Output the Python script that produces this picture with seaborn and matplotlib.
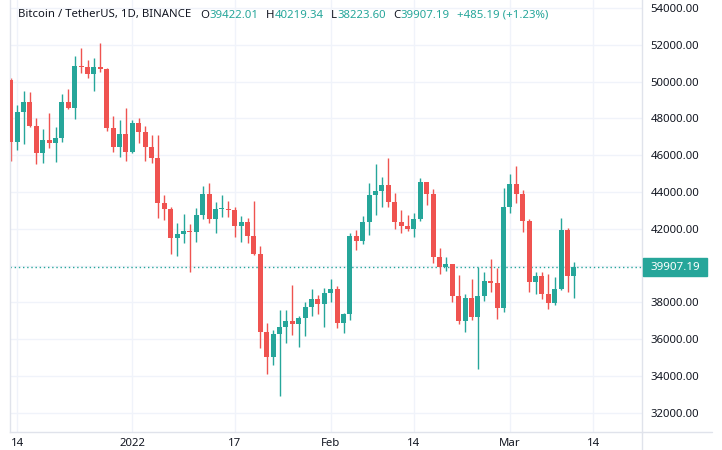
import numpy as np
import pandas as pd
import matplotlib
matplotlib.use("Agg")
import matplotlib.pyplot as plt
import matplotlib.dates as mdates
from matplotlib.patches import Rectangle
from matplotlib.lines import Line2D
import seaborn as sns

# ---- data (BTC/USDT daily) ----
start_date = "2021-12-13"
opens = [50087, 46699, 48330, 48873, 47605, 46101, 46808, 46681, 46917, 48873,
         48584, 50848, 50794, 50395, 50794, 50667, 47496, 46464, 47152, 46192,
         47732, 47278, 46427, 45829, 43420, 43057, 41517, 41698, 41879, 41807,
         42749, 43891, 42550, 43057, 43093, 43039, 42169, 42369, 41626, 40650,
         36409, 35050, 36282, 36644, 36988, 36807, 37133, 37731, 38166, 37894,
         38492, 38728, 36898, 37351, 41608, 41355, 42351, 43837, 44054, 44380,
         43474, 42351, 42170, 41989, 42514, 44525, 43873, 40485, 39942, 40086,
         38365, 36988, 38220, 37224, 38347, 39181, 39072, 37677, 43203, 44434,
         43891, 42441, 39126, 39434, 38437, 37984, 38709, 41934, 39422]
highs = [50200, 48729, 49489, 49417, 48004, 47406, 48276, 47551, 49308, 49598,
         51392, 51808, 51174, 51265, 52080, 50721, 48131, 47913, 48584, 47913,
         48022, 47587, 47098, 47097, 43836, 43166, 42296, 42803, 42260, 43112,
         44325, 44506, 43474, 43836, 43528, 43166, 42695, 42568, 43528, 41065,
         36862, 36499, 37586, 37586, 38945, 37260, 38003, 38710, 38402, 38764,
         39253, 38909, 37405, 41753, 41934, 42695, 44507, 45522, 44797, 45830,
         43927, 43021, 42750, 42840, 44743, 44561, 44145, 40938, 40449, 40100,
         39489, 38456, 39253, 39905, 39670, 40358, 39887, 44199, 44978, 45412,
         44108, 42514, 39633, 39669, 39543, 39361, 42568, 42025, 40219]
lows = [45685, 46283, 46591, 47551, 45504, 45558, 46410, 45612, 46699, 48511,
        47949, 50450, 50178, 49489, 50504, 47333, 46156, 45920, 45703, 46100,
        46680, 45702, 45557, 42568, 42477, 40629, 40539, 41246, 39669, 41300,
        42514, 42333, 41753, 42622, 42622, 41572, 41300, 41209, 40575, 35503,
        34090, 34597, 32912, 35775, 36228, 35557, 36191, 37278, 37369, 36680,
        38039, 36626, 36318, 37043, 40847, 41155, 41663, 42750, 43166, 43203,
        41971, 41753, 41898, 41572, 42424, 43293, 40123, 39525, 39706, 38039,
        36825, 36409, 37043, 34362, 38076, 38583, 37079, 37496, 42840, 43383,
        41843, 38582, 38437, 38166, 37622, 37858, 38673, 38582, 38223]
closes = [46699, 48330, 48873, 47605, 46101, 46808, 46681, 46917, 48873, 48584,
          50848, 50794, 50395, 50794, 50667, 47496, 46464, 47152, 46192, 47732,
          47278, 46427, 45829, 43420, 43057, 41517, 41698, 41879, 41807, 42749,
          43891, 42550, 43057, 43093, 43039, 42169, 42369, 41626, 40650, 36409,
          35050, 36282, 36644, 36988, 36807, 37133, 37731, 38166, 37894, 38492,
          38728, 36898, 37351, 41608, 41355, 42351, 43837, 44054, 44380, 43474,
          42351, 42170, 41989, 42514, 44525, 43873, 40485, 39942, 40086, 38365,
          36988, 38220, 37224, 38347, 39181, 39072, 37677, 43203, 44434, 43891,
          42441, 39126, 39434, 38437, 37984, 38709, 41934, 39422, 39907]
last_price = 39907.19
y_ticks = [32000, 34000, 36000, 38000, 40000, 42000, 44000, 46000, 48000, 50000, 52000, 54000]
x_tick_dates = ["2021-12-14", "2022-01-01", "2022-01-17", "2022-02-01", "2022-02-14", "2022-03-01", "2022-03-14"]
x_tick_labels = ["14", "2022", "17", "Feb", "14", "Mar", "14"]
header_name = "Bitcoin / TetherUS, 1D, BINANCE"
header_vals = [("O", "39422.01"), ("H", "40219.34"), ("L", "38223.60"), ("C", "39907.19")]
header_change = "+485.19 (+1.23%)"

UP = "#26a69a"
DOWN = "#ef5350"
TXT = "#131722"
GRID = "#f0f3fa"
BORDER = "#e0e3eb"

dates = pd.date_range(start_date, periods=len(opens), freq="D")
df = pd.DataFrame({"date": dates, "open": opens, "high": highs, "low": lows, "close": closes})
df["up"] = df["close"] >= df["open"]
df["x"] = mdates.date2num(df["date"])

sns.set_theme(style="white")
plt.rcParams["font.family"] = ["Noto Sans", "DejaVu Sans"]

W, H = 722, 450
fig = plt.figure(figsize=(W / 100, H / 100), dpi=100)
fig.patch.set_facecolor("white")
ax = fig.add_axes([10 / W, (H - 432) / H, 632 / W, 432 / H])

jan1 = mdates.date2num(pd.Timestamp("2022-01-01"))
px_per_day = 6.4
ax.set_xlim(jan1 + (10 - 132.3) / px_per_day, jan1 + (642 - 132.3) / px_per_day)
ax.set_ylim(30956, 54435)

# grid
for yv in y_ticks:
    ax.axhline(yv, color=GRID, lw=1, zorder=0)
for d in x_tick_dates:
    ax.axvline(mdates.date2num(pd.Timestamp(d)), color=GRID, lw=1, zorder=0)

colors = np.where(df["up"], UP, DOWN)
# wicks
ax.vlines(df["x"], df["low"], df["high"], colors=colors, lw=1.0, zorder=2)
# bodies
body_bottom = np.minimum(df["open"], df["close"])
body_h = np.maximum(np.abs(df["close"] - df["open"]), 60)
ax.bar(df["x"], body_h, bottom=body_bottom, width=0.78, color=colors,
       edgecolor=colors, linewidth=0, zorder=3)

# last price line
ax.axhline(last_price, color=UP, lw=1, linestyle=(0, (1, 2)), zorder=1)

# axes styling
ax.yaxis.tick_right()
ax.set_yticks([v for v in y_ticks if v != 40000])
ax.set_yticklabels([f"{v:.2f}" for v in y_ticks if v != 40000])
ax.set_xticks([mdates.date2num(pd.Timestamp(d)) for d in x_tick_dates])
ax.set_xticklabels(x_tick_labels)
ax.tick_params(axis="y", length=0, pad=6, labelsize=8.2, labelcolor=TXT)
ax.tick_params(axis="x", length=0, pad=4, labelsize=8.2, labelcolor=TXT)
ax.spines["top"].set_visible(False)
for s in ["left", "right", "bottom"]:
    ax.spines[s].set_color(BORDER)
    ax.spines[s].set_linewidth(1)

# extend borders into the price-scale corner
fig.add_artist(Line2D([642 / W, 712 / W], [(H - 432) / H, (H - 432) / H], color=BORDER, lw=1))
fig.add_artist(Line2D([642 / W, 642 / W], [0, (H - 432) / H], color=BORDER, lw=1))

# last price label on the scale
y_lab = (H - 267.3) / H
fig.add_artist(Rectangle((643 / W, (H - 276) / H), 64 / W, 18 / H, color=UP, transform=fig.transFigure))
fig.text(675 / W, y_lab, f"{last_price:.2f}", color="white", fontsize=8.3, fontweight="bold",
         ha="center", va="center")

# header, laid out sequentially so pieces never overlap
fs = 8.2
yh = (H - 15) / H
renderer = fig.canvas.get_renderer()
fig.text(18 / W, yh, header_name, color=TXT, fontsize=fs, ha="left", va="center")
pieces = []
for k, v in header_vals:
    pieces.append((k, TXT, 0.5))
    pieces.append((v, UP, 7.0))
pieces.append((header_change, UP, 0))
xcur = 200.0
for txt, col, gap in pieces:
    t = fig.text(xcur / W, yh, txt, color=col, fontsize=fs, ha="left", va="center")
    wpx = t.get_window_extent(renderer).width
    xcur += wpx + gap
# spacing between value and next letter is handled by gap; change string follows last value
fig.savefig("out.png", dpi=100, facecolor="white")
